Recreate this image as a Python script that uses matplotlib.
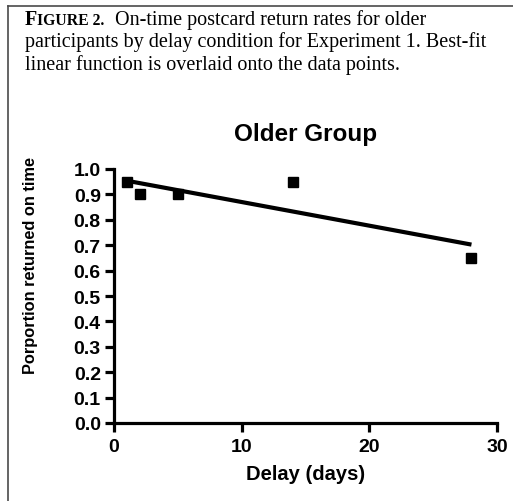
import numpy as np
import matplotlib
matplotlib.use("Agg")
import matplotlib.pyplot as plt
from matplotlib.lines import Line2D

# Data
delay_days = [1, 2, 5, 14, 28]
proportion = [0.95, 0.90, 0.90, 0.95, 0.65]
x_ticks = [0, 10, 20, 30]
y_ticks = [0.0, 0.1, 0.2, 0.3, 0.4, 0.5, 0.6, 0.7, 0.8, 0.9, 1.0]
title = "Older Group"
xlabel = "Delay (days)"
ylabel = "Porportion returned on time"

W, H = 513, 502
fig = plt.figure(figsize=(W / 100, H / 100), dpi=100)
fig.patch.set_facecolor("white")

# Border
bc = "#4a4a4a"
fig.add_artist(Line2D([8 / W, 8 / W], [0, 1 - 7 / H], transform=fig.transFigure, color=bc, lw=1.2))
fig.add_artist(Line2D([8 / W, 1], [1 - 7 / H, 1 - 7 / H], transform=fig.transFigure, color=bc, lw=1.2))

# Caption
serif = "Liberation Serif"
cs = 14.5
renderer = fig.canvas.get_renderer()
x0 = 25 / W
y1 = 1 - 25 / H
pieces = [("F", dict(weight="bold", size=cs)),
          ("IGURE 2.", dict(weight="bold", size=cs * 0.78)),
          ("  On-time postcard return rates for older", dict(size=cs))]
xc = x0
for txt, kw in pieces:
    t = fig.text(xc, y1, txt, family=serif, va="baseline", ha="left", **kw)
    bb = t.get_window_extent(renderer=renderer)
    xc = bb.x1 / W
fig.text(x0, 1 - 47 / H, "participants by delay condition for Experiment 1. Best-fit",
         family=serif, size=cs, va="baseline", ha="left")
fig.text(x0, 1 - 70 / H, "linear function is overlaid onto the data points.",
         family=serif, size=cs, va="baseline", ha="left")

# Axes
ax = fig.add_axes([114 / W, 1 - 424 / H, (497 - 114) / W, (424 - 170) / H])
sans = "Liberation Sans"
x = np.array(delay_days, dtype=float)
y = np.array(proportion, dtype=float)
slope, intercept = np.polyfit(x, y, 1)
xf = np.array([x.min(), x.max()])
ax.plot(xf, slope * xf + intercept, color="black", lw=3.0, solid_capstyle="butt", zorder=3)
ax.plot(x, y, "s", color="black", ms=7.5, clip_on=False, zorder=4)

ax.set_xlim(0, 30)
ax.set_ylim(0, 1.0)
ax.set_xticks(x_ticks)
ax.set_yticks(y_ticks)
ax.set_xticklabels([str(v) for v in x_ticks], family=sans, weight="bold", size=14)
ax.set_yticklabels([f"{v:.1f}" for v in y_ticks], family=sans, weight="bold", size=14)
for s in ["top", "right"]:
    ax.spines[s].set_visible(False)
for s in ["left", "bottom"]:
    ax.spines[s].set_linewidth(2.3)
ax.tick_params(axis="y", direction="out", length=6.5, width=2.3, pad=3)
ax.tick_params(axis="x", direction="out", length=6.5, width=2.3, pad=4)
ax.set_title(title, family=sans, weight="bold", size=17.5, pad=21)
ax.set_xlabel(xlabel, family=sans, weight="bold", size=14.5, labelpad=7)
fig.text(31 / W, 1 - 265 / H, ylabel, family=sans, weight="bold", size=11.8, rotation=90,
         ha="center", va="center")

fig.savefig("out.png", dpi=100)
